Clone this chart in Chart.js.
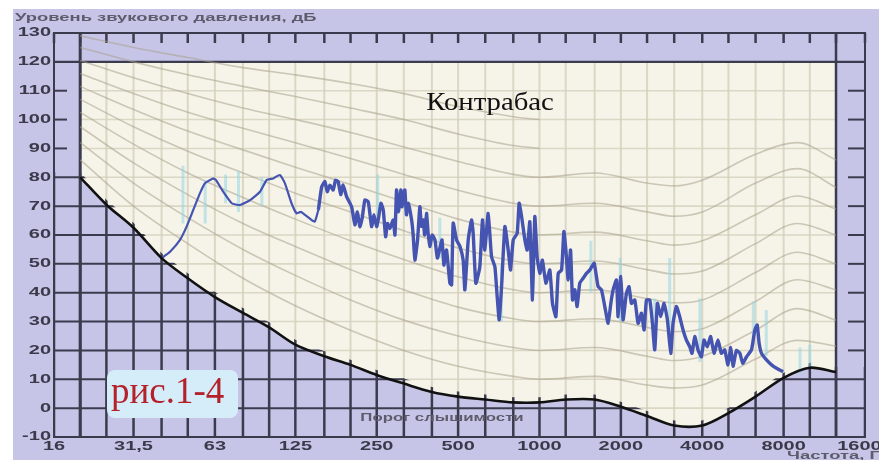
<!DOCTYPE html>
<html>
<head>
<meta charset="utf-8">
<script src="https://cdn.jsdelivr.net/npm/chart.js@4.4.0/dist/chart.umd.min.js"></script>
<style>
  html, body { margin: 0; padding: 0; background: #fff; }
  #chart { display: block; }
</style>
</head>
<body>
<canvas id="chart" width="879" height="460"></canvas>
<script>
// axis ticks
var freqTicks = [16, 31.5, 63, 125, 250, 500, 1000, 2000, 4000, 8000, 16000];
var freqTickLabels = ['16', '31,5', '63', '125', '250', '500', '1000', '2000', '4000', '8000', '16000'];
var thirdOctaves = [16, 20, 25, 31.5, 40, 50, 63, 80, 100, 125, 160, 200, 250, 315, 400, 500, 630, 800,
    1000, 1250, 1600, 2000, 2500, 3150, 4000, 5000, 6300, 8000, 10000, 12500, 16000];
var levelTicks = [-10, 0, 10, 20, 30, 40, 50, 60, 70, 80, 90, 100, 110, 120, 130];
var topLevel = 120;

// hearing threshold
var thresholdFreq = [20, 25, 31.5, 40, 50, 63, 80, 100, 125, 160, 200, 250, 315, 400, 500, 630, 800,
    1000, 1250, 1600, 2000, 2500, 3150, 4000, 5000, 6300, 8000, 10000, 12500];
var thresholdLevel = [80, 70.5, 62.5, 52, 45, 38.5, 33, 28, 22, 18, 15, 11.5, 8.5, 5.6, 4, 3, 2,
    2, 3, 3, 0.5, -2.7, -6, -6, -1.7, 4, 10.5, 14, 12.5];

// equal loudness curves
var contourFreq = [20, 31.5, 50, 80, 125, 200, 315, 500, 800, 1000, 1600, 2500, 3150, 4000, 6300, 9000, 12500];
var phon10 = [86, 70, 57, 45, 35.5, 27, 20, 14.5, 11, 10, 11, 8, 7, 8, 17, 23.5, 21.5];
var phon20 = [92, 78, 66, 55, 46, 37.5, 30.5, 25, 21, 20, 21, 18, 16.5, 18, 27, 34.5, 30.5];
var phon30 = [97.5, 85, 74, 64, 56, 48, 41, 35, 31, 30, 31, 28, 26.5, 27.5, 37, 44.5, 41];
var phon40 = [102.5, 91.5, 81.5, 73, 65.5, 58, 51.5, 45.5, 41, 40, 41, 38, 36.5, 37.5, 47, 54, 50];
var phon50 = [107, 97.5, 89, 81.5, 74.5, 68, 61.5, 55.5, 51, 50, 51, 48, 46.5, 47.5, 57, 64, 60];
var phon60 = [111.5, 103.5, 96, 89.5, 83.5, 77.5, 71.5, 65.5, 61, 60, 61, 58, 56.5, 58, 67, 73.5, 69];
var phon70 = [116, 109, 102.5, 97, 92, 86.5, 81, 75.5, 71, 70, 71, 68, 66.5, 68, 78, 83, 76.5];
var phon80 = [120.5, 114.5, 109, 104, 100, 95.5, 90.5, 85.5, 81, 80, 81.5, 78, 77, 79, 88, 92, 86];
var phon90 = [125, 120, 115.5, 111.5, 108, 104, 100, 95, 91, 90];
var phon100 = [129, 125, 121.5, 118, 115.5, 112.5, 109, 104.5, 101, 100];

// double bass spectrum
var bassFreq = [40, 43, 46.8, 49.5, 52.4, 55.5, 57.9, 62, 63.5, 67.6, 72.7, 78, 85, 92.5, 98, 103.5, 109.6, 114.4,
    121, 126.4, 131, 135.6, 143.6, 147.5, 152, 156.4, 160.8, 164, 167.8, 172.6, 176, 180, 184, 187.8, 193.4, 201.8, 207.6,
    212, 216.6, 221, 226, 232.6, 239.3, 244, 249.7, 254, 259, 264.3, 269.7, 274, 279.7, 287.6, 292, 296, 301, 307, 310, 314, 317.7, 322, 327, 336.5, 341, 346,
    354, 361, 366, 371.5, 376, 382, 387, 393, 401, 410.5, 419, 428, 436, 443, 453, 466, 473, 479.5, 493.5, 508, 522, 529.6, 545, 560.6,
    568.5, 581.6, 601.6, 615.5, 627.8, 646, 664.7, 684, 697.5, 709.5, 724, 744.8, 766, 781.5, 799.6, 827, 841,
    858.6, 883, 900.6, 921, 942, 961, 980, 1003, 1025, 1056, 1092, 1117, 1150, 1173, 1207, 1231, 1252, 1277,
    1303, 1325, 1351, 1378, 1409, 1450, 1492, 1536, 1560, 1594, 1648, 1695, 1744, 1795, 1836, 1872, 1927, 1953,
    1999, 2038, 2097, 2144, 2188, 2252, 2316, 2384, 2438, 2487, 2558, 2617, 2669, 2730, 2808, 2888, 2973, 3059,
    3119, 3209, 3302, 3397, 3495, 3596, 3667, 3753, 3858, 3971, 4060, 4177, 4297, 4421, 4574, 4706, 4842, 4981,
    5100, 5200, 5350, 5511, 5650, 5832, 6085, 6262, 6388, 6494, 6629, 6915, 7218, 7531, 7968];
var bassLevel = [52, 54.2, 58.3, 62.9, 68.7, 74.5, 77.9, 79.6, 79.1, 75, 71, 70.4, 72.1, 75, 79.1, 79.6, 80.8, 77.9,
    71, 67.5, 68, 67, 65.2, 64.6, 68.7, 76.7, 78.5, 75, 77.3, 75.6, 79, 78.5, 74, 77.3, 73.3, 69.8, 63.5,
    68, 62.9, 66, 72.1, 71.5, 62.9, 67, 62.9, 66, 71, 68.7, 59.4, 64, 62.3, 65.2, 60, 75.6, 68, 75.6, 69.8, 74, 75.6, 67, 71, 65.2, 60, 51.3,
    58.3, 69.8, 63, 65.2, 60, 67.5, 61, 56, 60, 58.3, 52, 55.4, 58.3, 49.6, 54.8, 43.4, 42.7, 64.1, 58.3, 56, 51.3, 41, 58.3, 65.2,
    60.6, 43.3, 49, 65.2, 54.8, 67.5, 52.5, 49, 38.6, 30.6, 42.1, 62.9, 54.8, 47.9, 58.3, 60.6, 71,
    66.4, 58.3, 54.8, 64.6, 37.5, 66.4, 52.5, 46.7, 51.3, 43.3, 47.9, 36.3, 31.7, 46.7, 47.9, 61.2, 54.8, 44.4,
    54.8, 37.5, 41, 35.2, 43.3, 45, 46.7, 47.9, 49, 50.2, 42.1, 41, 35.2, 29.4, 36.3, 41, 44.4, 31.7,
    45.6, 30.6, 39.8, 42.1, 36.3, 37.5, 29.4, 32.9, 27.1, 37.5, 37.5, 29.4, 20.2, 36.3, 31.7, 36.3, 30.6, 19,
    29.4, 35.2, 31.7, 27.1, 23.6, 21.3, 19, 24.8, 20.2, 17.8, 23.6, 21.3, 24.8, 19, 23.6, 19, 20.2, 15,
    21, 14.5, 20, 19, 15.5, 17.8, 20.2, 27.1, 28.8, 22.5, 19, 16.7, 15, 13.8, 12.6];

// peak hold spikes
var peakFreq = [48, 58, 69, 77, 94, 252, 428, 723, 1550, 1990, 2670, 3030, 3920, 6180, 6900, 9200, 10000];
var peakLow = [64, 64, 71, 68, 70, 63, 52, 30, 40, 30, 22, 22, 16, 22, 18, 12, 14];
var peakHigh = [84, 79, 81, 82, 80, 81, 66, 50, 58, 52, 38, 52, 38, 37, 34, 21, 22];

var axisTitleY = 'Уровень звукового давления, дБ';
var axisTitleX = 'Частота, Гц';
var thresholdTitle = 'Порог слышимости';
var instrument = 'Контрабас';
var figureTag = 'рис.1-4';

var dark = '#3b3b4e';

function pts(xs, ys) {
    return ys.map(function (v, i) { return { x: xs[i], y: v }; });
}

function line(ctx, x1, y1, x2, y2) {
    ctx.beginPath();
    ctx.moveTo(x1, y1);
    ctx.lineTo(x2, y2);
    ctx.stroke();
}

function strokeGrid(chart, color, wv, wh) {
    var ctx = chart.ctx, xs = chart.scales.x, ys = chart.scales.y, a = chart.chartArea;
    ctx.strokeStyle = color;
    ctx.lineWidth = wv;
    thirdOctaves.forEach(function (f) {
        var x = xs.getPixelForValue(f);
        line(ctx, x, a.top, x, a.bottom);
    });
    ctx.lineWidth = wh;
    levelTicks.forEach(function (v) {
        var y = ys.getPixelForValue(v);
        line(ctx, a.left, y, a.right, y);
    });
}

function wideText(ctx, str, x, y, align, stretch) {
    ctx.save();
    ctx.translate(x, y);
    ctx.scale(stretch, 1);
    ctx.textAlign = align;
    ctx.fillText(str, 0, 0);
    ctx.restore();
}

var paperPlugin = {
    id: 'paper',
    beforeDraw: function (chart) {
        var ctx = chart.ctx;
        ctx.save();
        ctx.fillStyle = '#ffffff';
        ctx.fillRect(0, 0, chart.width, chart.height);
        ctx.fillStyle = '#c6c5e7';
        ctx.fillRect(13, 9, chart.width - 13, chart.height - 9);
        ctx.restore();
    }
};

// grid: light inside the audible area, dark below the threshold, ticks on the margins
var gridPlugin = {
    id: 'audioGrid',
    afterDatasetDraw: function (chart, args) {
        if (args.index !== 0) return;
        var ctx = chart.ctx, xs = chart.scales.x, ys = chart.scales.y, a = chart.chartArea;
        var th = thresholdFreq.map(function (f, i) {
            return [xs.getPixelForValue(f), ys.getPixelForValue(thresholdLevel[i])];
        });
        var last = th.length - 1;
        var yTop = ys.getPixelForValue(topLevel);

        ctx.save();
        ctx.beginPath();
        ctx.moveTo(th[0][0], yTop);
        ctx.lineTo(th[last][0], yTop);
        for (var i = last; i >= 0; i--) ctx.lineTo(th[i][0], th[i][1]);
        ctx.closePath();
        ctx.clip();
        strokeGrid(chart, 'rgba(212,207,188,0.8)', 2, 1.6);
        ctx.restore();

        ctx.save();
        ctx.beginPath();
        ctx.moveTo(a.left, th[0][1] - 5);
        th.forEach(function (p) { ctx.lineTo(p[0], p[1] - 5); });
        ctx.lineTo(a.right, th[last][1] - 5);
        ctx.lineTo(a.right, a.bottom);
        ctx.lineTo(a.left, a.bottom);
        ctx.closePath();
        ctx.clip();
        strokeGrid(chart, dark, 2.5, 2);
        ctx.restore();

        ctx.save();
        ctx.strokeStyle = dark;
        ctx.lineWidth = 2.5;
        thirdOctaves.forEach(function (f) {
            var x = xs.getPixelForValue(f);
            line(ctx, x, a.top, x, a.top + 10);
        });
        ctx.lineWidth = 2;
        levelTicks.forEach(function (v) {
            var y = ys.getPixelForValue(v);
            if (v > thresholdLevel[0] && v < topLevel) line(ctx, a.left, y, a.left + 13, y);
            if (v > thresholdLevel[last] && v < topLevel) line(ctx, a.right - 17, y, a.right, y);
        });
        ctx.strokeRect(a.left, a.top, a.right - a.left, a.bottom - a.top);
        ctx.lineWidth = 2.2;
        line(ctx, a.left, yTop, a.right, yTop);
        ctx.lineWidth = 3;
        line(ctx, th[0][0], a.top, th[0][0], a.bottom);
        ctx.lineWidth = 2.5;
        line(ctx, th[last][0], a.top, th[last][0], a.bottom);
        ctx.restore();
    }
};

var labelPlugin = {
    id: 'labels',
    afterDraw: function (chart) {
        var ctx = chart.ctx, xs = chart.scales.x, ys = chart.scales.y;
        ctx.save();
        ctx.textBaseline = 'middle';
        ctx.fillStyle = '#3a3a4a';
        ctx.font = 'bold 12.5px "Liberation Sans", Arial, sans-serif';
        levelTicks.forEach(function (v) {
            wideText(ctx, String(v), 51, ys.getPixelForValue(v), 'right', 1.6);
        });
        freqTicks.forEach(function (f, i) {
            wideText(ctx, freqTickLabels[i], xs.getPixelForValue(f), 447, 'center', 1.6);
        });

        ctx.fillStyle = '#5c5c6c';
        ctx.font = 'bold 11.5px "Liberation Sans", Arial, sans-serif';
        wideText(ctx, axisTitleY, 15, 18, 'left', 1.6);
        wideText(ctx, axisTitleX, 787, 456, 'left', 1.6);
        ctx.font = 'bold 10.5px "Liberation Sans", Arial, sans-serif';
        wideText(ctx, thresholdTitle, 442, 418, 'center', 1.6);

        ctx.fillStyle = '#111111';
        ctx.font = '25px "Liberation Serif", "Times New Roman", serif';
        wideText(ctx, instrument, 490, 103, 'center', 1.15);

        ctx.fillStyle = '#d5edf8';
        ctx.beginPath();
        ctx.roundRect(107, 370, 131, 48, 8);
        ctx.fill();
        ctx.fillStyle = '#b5212b';
        ctx.font = '37px "Liberation Serif", "Times New Roman", serif';
        ctx.textBaseline = 'alphabetic';
        ctx.textAlign = 'left';
        ctx.fillText(figureTag, 111, 403);
        ctx.restore();
    }
};

var contourSets = [phon10, phon20, phon30, phon40, phon50, phon60, phon70, phon80, phon90, phon100].map(function (vals) {
    return {
        data: pts(contourFreq, vals),
        borderColor: 'rgba(168,161,138,0.55)',
        borderWidth: 1.6,
        pointRadius: 0,
        fill: false,
        cubicInterpolationMode: 'monotone',
        order: 8
    };
});

var peakData = [];
peakFreq.forEach(function (f, i) {
    peakData.push({ x: f, y: peakLow[i] }, { x: f, y: peakHigh[i] }, { x: f, y: null });
});

var datasets = [
    {
        label: 'audible',
        data: thresholdFreq.map(function (f) { return { x: f, y: topLevel }; }),
        fill: 1,
        backgroundColor: '#f6f4e8',
        borderWidth: 0,
        pointRadius: 0,
        order: 10
    },
    {
        label: thresholdTitle,
        data: pts(thresholdFreq, thresholdLevel),
        borderColor: '#111111',
        borderWidth: 2.6,
        pointRadius: 0,
        fill: false,
        tension: 0.3,
        order: 0
    }
].concat(contourSets).concat([
    {
        label: 'peaks',
        data: peakData,
        borderColor: 'rgba(150,214,228,0.55)',
        borderWidth: 3,
        pointRadius: 0,
        fill: false,
        spanGaps: false,
        order: 7
    },
    {
        label: instrument,
        data: pts(bassFreq, bassLevel),
        borderColor: '#4454b0',
        borderWidth: 2.2,
        pointRadius: 0,
        fill: false,
        tension: 0.15,
        segment: {
            // the busy upper part of the spectrum is drawn heavier
            borderWidth: function (c) { return c.p0.parsed.x < 150 ? 2.2 : 3.4; }
        },
        order: 1
    }
]);

new Chart(document.getElementById('chart'), {
    type: 'line',
    data: { datasets: datasets },
    options: {
        responsive: false,
        animation: false,
        layout: { padding: { left: 54, right: 14, top: 33, bottom: 23 } },
        scales: {
            x: { type: 'logarithmic', min: 16, max: 16000, display: false },
            y: { type: 'linear', min: -10, max: 130, display: false }
        },
        plugins: {
            legend: { display: false },
            tooltip: { enabled: false }
        }
    },
    plugins: [paperPlugin, gridPlugin, labelPlugin]
});
</script>
</body>
</html>
